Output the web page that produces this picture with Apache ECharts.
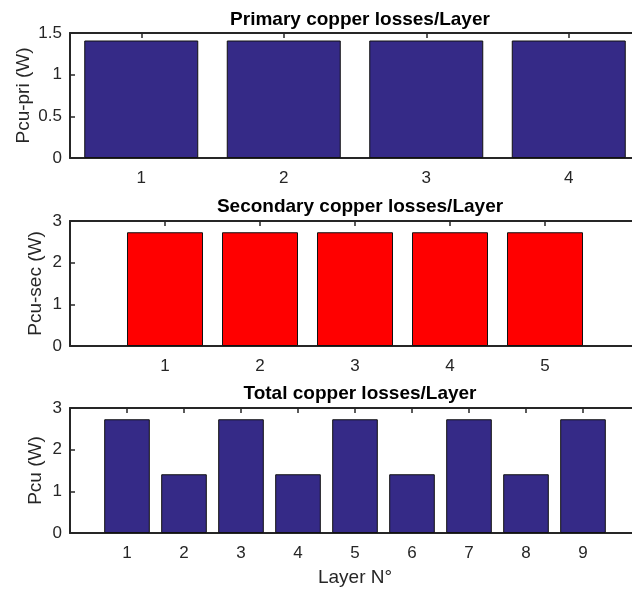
<!DOCTYPE html>
<html>
<head>
<meta charset="utf-8">
<script src="https://cdn.jsdelivr.net/npm/echarts@6/dist/echarts.min.js"></script>
<style>
  html, body { margin: 0; background: #fff; }
  #chart { width: 632px; height: 589px; }
</style>
</head>
<body>
<div id="chart"></div>
<script>
// values
const priLayers = ['1', '2', '3', '4'];
const priLoss = [1.41, 1.41, 1.41, 1.41];
const secLayers = [1, 2, 3, 4, 5];
const secLoss = [2.73, 2.73, 2.73, 2.73, 2.73];
const totLayers = [1, 2, 3, 4, 5, 6, 7, 8, 9];
const totLoss = [2.73, 1.41, 2.73, 1.41, 2.73, 1.41, 2.73, 1.41, 2.73];
const titles = ['Primary copper losses/Layer', 'Secondary copper losses/Layer', 'Total copper losses/Layer'];
const yNames = ['Pcu-pri (W)', 'Pcu-sec (W)', 'Pcu (W)'];

const font = 'Arial, "Liberation Sans", Helvetica, sans-serif';
const ink = '#262626';
const navy = '#352a87';

const line = { show: true, lineStyle: { color: ink, width: 2 } };
const tickIn = { show: true, inside: true, length: 5, lineStyle: { color: ink, width: 1.5 } };
const lbl = { color: ink, fontSize: 17, fontFamily: font };
const nameStyle = { color: ink, fontSize: 19, fontFamily: font };

// the right end of each axis box sits just outside the picture
const grids = [
  { left: 70, top: 33, width: 570, height: 125, outerBoundsMode: 'none', containLabel: false },
  { left: 70, top: 221, width: 570, height: 125, outerBoundsMode: 'none', containLabel: false },
  { left: 70, top: 408, width: 570, height: 125, outerBoundsMode: 'none', containLabel: false }
];

const hideEnds = (max) => v => (v === 0 || v === max) ? '' : String(v);

const xAxes = [
  // plot 1
  { type: 'category', gridIndex: 0, data: priLayers, boundaryGap: true, axisLine: line,
    axisTick: Object.assign({ alignWithLabel: true }, tickIn), axisLabel: Object.assign({ margin: 12 }, lbl) },
  { type: 'category', gridIndex: 0, position: 'top', data: priLayers, boundaryGap: true, axisLine: line,
    axisTick: Object.assign({ alignWithLabel: true }, tickIn), axisLabel: { show: false } },
  // plot 2
  { type: 'value', gridIndex: 1, min: 0, max: 6, interval: 1, axisLine: line, splitLine: { show: false },
    axisTick: tickIn, axisLabel: Object.assign({ margin: 12, formatter: hideEnds(6) }, lbl) },
  { type: 'value', gridIndex: 1, position: 'top', min: 0, max: 6, interval: 1, axisLine: line,
    splitLine: { show: false }, axisTick: tickIn, axisLabel: { show: false } },
  // plot 3
  { type: 'value', gridIndex: 2, min: 0, max: 10, interval: 1, axisLine: line, splitLine: { show: false },
    axisTick: tickIn, axisLabel: Object.assign({ margin: 12, formatter: hideEnds(10) }, lbl),
    name: 'Layer N°', nameLocation: 'middle', nameGap: 35, nameMoveOverlap: false, nameTextStyle: nameStyle },
  { type: 'value', gridIndex: 2, position: 'top', min: 0, max: 10, interval: 1, axisLine: line,
    splitLine: { show: false }, axisTick: tickIn, axisLabel: { show: false } }
];

const yMax = [1.5, 3, 3];
const yInt = [0.5, 1, 1];
const yGap = [37, 25, 25];
const yAxes = yMax.map((m, i) => ({
  type: 'value', gridIndex: i, min: 0, max: m, interval: yInt[i],
  axisLine: line, axisTick: tickIn, splitLine: { show: false },
  axisLabel: Object.assign({ margin: 8 }, lbl),
  name: yNames[i], nameLocation: 'middle', nameGap: yGap[i], nameMoveOverlap: false,
  nameTextStyle: nameStyle
}));

const barStyle = c => ({ color: c, borderColor: '#111', borderWidth: 1 });

const option = {
  animation: false,
  backgroundColor: '#fff',
  title: titles.map((t, i) => ({
    text: t, left: 355, top: [5, 192, 379][i], textAlign: 'center',
    textStyle: { color: '#000', fontSize: 19, fontWeight: 'bold', fontFamily: font }
  })),
  grid: grids,
  xAxis: xAxes,
  yAxis: yAxes,
  series: [
    { type: 'bar', xAxisIndex: 0, yAxisIndex: 0, barWidth: '80%', data: priLoss, itemStyle: barStyle(navy) },
    { type: 'bar', xAxisIndex: 2, yAxisIndex: 1, barWidth: '80%',
      data: secLayers.map((l, i) => [l, secLoss[i]]), itemStyle: barStyle('#ff0000') },
    { type: 'bar', xAxisIndex: 4, yAxisIndex: 2, barWidth: '80%',
      data: totLayers.map((l, i) => [l, totLoss[i]]), itemStyle: barStyle(navy) }
  ]
};

const myChart = echarts.init(document.getElementById('chart'));
myChart.setOption(option);
window.addEventListener('resize', function () {
  myChart.resize();
});
</script>
</body>
</html>
